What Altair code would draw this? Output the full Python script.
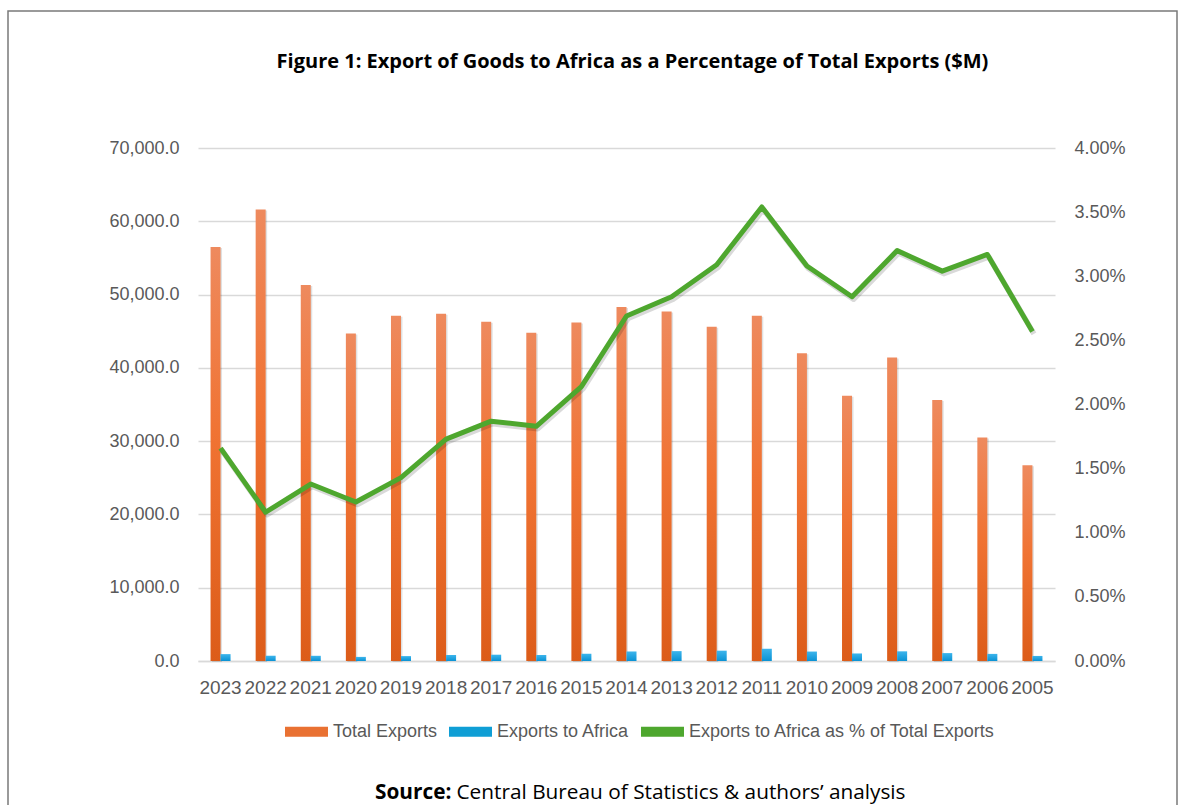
import altair as alt
import pandas as pd

# ---------------- data ----------------
years = ["2023", "2022", "2021", "2020", "2019", "2018", "2017", "2016", "2015", "2014",
         "2013", "2012", "2011", "2010", "2009", "2008", "2007", "2006", "2005"]
total_exports = [56500, 61600, 51300, 44700, 47100, 47400, 46300, 44800, 46200, 48300,
                 47700, 45600, 47100, 42000, 36200, 41400, 35600, 30500, 26700]
africa_exports = [940, 720, 710, 560, 670, 820, 860, 820, 990, 1300,
                  1350, 1410, 1670, 1290, 1030, 1320, 1080, 970, 690]
africa_share = [0.0166, 0.0116, 0.0138, 0.0124, 0.0143, 0.0173, 0.0187, 0.0183, 0.0214, 0.0269,
                0.0284, 0.0309, 0.0354, 0.0308, 0.0284, 0.0320, 0.0304, 0.0317, 0.0257]
left_ticks = [0, 10000, 20000, 30000, 40000, 50000, 60000, 70000]
right_ticks = [0, 0.005, 0.01, 0.015, 0.02, 0.025, 0.03, 0.035, 0.04]
series_names = ["Total Exports", "Exports to Africa", "Exports to Africa as % of Total Exports"]
series_colors = ["#E97132", "#0F9ED5", "#4EA72E"]
title_text = ["Figure 1: Export of Goods to Africa as a Percentage of Total Exports ($M)"]
source_bold = ["Source:"]
source_rest = ["Central Bureau of Statistics & authors\u2019 analysis"]

df = pd.DataFrame({"year": years, "total": total_exports,
                   "africa": africa_exports, "share": africa_share})
legend_df = pd.DataFrame({"series": series_names})

W, H = 857, 513
GRAY = "#595959"

x_enc = alt.X("year:N", sort=years,
              scale=alt.Scale(paddingInner=0, paddingOuter=0),
              axis=alt.Axis(title=None, labelAngle=0, labelFontSize=19, labelFont="Liberation Sans",
                            labelColor=GRAY, labelPadding=17, ticks=False, labelOverlap=False,
                            labelFlush=False, labelBound=False,
                            domainColor="#D9D9D9", domainWidth=1.5))

orange_grad = alt.LinearGradient(
    gradient="linear", x1=0, x2=0, y1=0, y2=1,
    stops=[alt.GradientStop(offset=0, color="#EE8A5E"),
           alt.GradientStop(offset=0.45, color="#F07333"),
           alt.GradientStop(offset=1, color="#DC5C19")])
blue_grad = alt.LinearGradient(
    gradient="linear", x1=0, x2=0, y1=0, y2=1,
    stops=[alt.GradientStop(offset=0, color="#3DB5EC"),
           alt.GradientStop(offset=1, color="#0A92D4")])

y_left_scale = alt.Scale(domain=[0, 70000], nice=False)
y_left_axis = alt.Axis(title=None, format=",.1f", values=left_ticks, grid=True, domain=False,
                       ticks=False, labelPadding=19, labelFontSize=18, labelFont="Liberation Sans",
                       labelColor=GRAY, gridColor="#D9D9D9", gridWidth=1.3)

base = alt.Chart(df)

bar_shadow = base.mark_bar(size=10, xOffset=-3.5, yOffset=1, color="#000000", opacity=0.12).encode(
    x=x_enc, y=alt.Y("total:Q", scale=y_left_scale, axis=y_left_axis))
bars_total = base.mark_bar(size=10, xOffset=-5, color=orange_grad).encode(
    x=x_enc, y=alt.Y("total:Q", scale=y_left_scale, axis=y_left_axis))
bars_africa = base.mark_bar(size=10, xOffset=5, color=blue_grad).encode(
    x=x_enc, y=alt.Y("africa:Q", scale=y_left_scale, axis=y_left_axis))

legend_layer = alt.Chart(legend_df).mark_rect().encode(
    color=alt.Color("series:N", sort=series_names,
                    scale=alt.Scale(domain=series_names, range=series_colors),
                    legend=alt.Legend(title=None, orient="none", legendX=87, legendY=562,
                                      direction="horizontal", columns=3,
                                      symbolType="M-1,-0.23H1V0.23H-1Z", symbolSize=1849,
                                      symbolStrokeWidth=0, symbolOpacity=1,
                                      labelFontSize=18, labelFont="Liberation Sans",
                                      labelLimit=500,
                                      labelColor=GRAY, labelOffset=5, columnPadding=11)),
    x=alt.value(0), x2=alt.value(0), y=alt.value(0), y2=alt.value(0))

frame = alt.Chart(pd.DataFrame({"k": [0]})).mark_rect(
    fillOpacity=0, stroke="#7A7A7A", strokeWidth=1.5).encode(
    x=alt.value(-190), x2=alt.value(979), y=alt.value(-137), y2=alt.value(700))

title_mark = alt.Chart(pd.DataFrame({"t": title_text})).mark_text(
    align="center", baseline="alphabetic", font="Open Sans", fontWeight="bold", fontSize=20,
    color="#000000").encode(x=alt.value(W / 2 + 6), y=alt.value(-80), text="t:N")

src1 = alt.Chart(pd.DataFrame({"t": source_bold})).mark_text(
    align="left", baseline="alphabetic", font="Open Sans", fontWeight="bold", fontSize=20.8,
    color="#000000").encode(x=alt.value(177), y=alt.value(651), text="t:N")
src2 = alt.Chart(pd.DataFrame({"t": source_rest})).mark_text(
    align="left", baseline="alphabetic", font="Open Sans", fontSize=20.8,
    color="#000000").encode(x=alt.value(258.5), y=alt.value(651), text="t:N")

left_group = alt.layer(frame, bar_shadow, bars_total, bars_africa, legend_layer,
                       title_mark, src1, src2)

y_right_scale = alt.Scale(domain=[0, 0.04], nice=False)
y_right_axis = alt.Axis(title=None, orient="right", format=".2%", values=right_ticks, grid=False,
                        domain=False, ticks=False, labelPadding=19, labelFontSize=18,
                        labelFont="Liberation Sans", labelColor=GRAY)

line_shadow = base.mark_line(color="#000000", opacity=0.15, strokeWidth=5.5, strokeJoin="round",
                             xOffset=1.5, yOffset=2.5).encode(
    x=x_enc, y=alt.Y("share:Q", scale=y_right_scale, axis=y_right_axis))
line = base.mark_line(color="#4EA72E", strokeWidth=5, strokeJoin="round").encode(
    x=x_enc, y=alt.Y("share:Q", scale=y_right_scale, axis=y_right_axis))

right_group = alt.layer(line_shadow, line)

chart = alt.layer(left_group, right_group).resolve_scale(y="independent").properties(
    width=W, height=H,
    autosize=alt.AutoSizeParams(type="none"),
    padding={"left": 198, "top": 148, "right": 124, "bottom": 144},
).configure(background="white").configure_view(strokeWidth=0, stroke="transparent")

chart.save("out.html", embed_options={"renderer": "svg", "actions": False})
